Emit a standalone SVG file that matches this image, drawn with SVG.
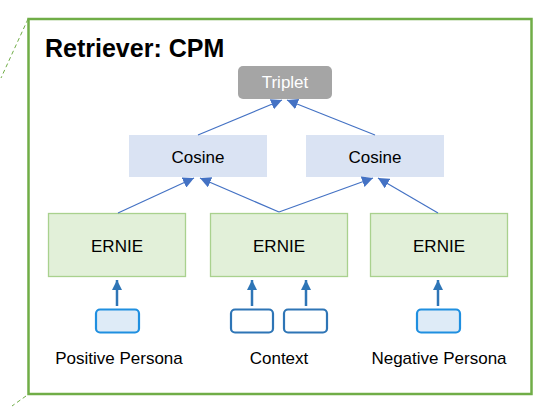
<svg xmlns="http://www.w3.org/2000/svg" width="560" height="413" viewBox="0 0 560 413">
<defs>
<style>
text{font-family:"Liberation Sans",Arial,sans-serif;text-anchor:middle;}
.cos{fill:#DAE3F3;}
.ern{fill:#E2F0D9;stroke:#A9D18E;stroke-width:1.3;}
.lbl{font-size:17px;fill:#000;}
.thin{stroke:#4472C4;stroke-width:1.2;fill:none;marker-end:url(#ah);}
.thick{stroke:#2E75B6;stroke-width:2.5;fill:none;marker-end:url(#ah2);}
.pin{fill:#DEEBF7;stroke:#1F8FE0;stroke-width:2.2;}
.cin{fill:#fff;stroke:#2E75B6;stroke-width:2.2;}
</style>
<marker id="ah" viewBox="0 0 10 10" refX="10" refY="5" markerWidth="11" markerHeight="11" markerUnits="userSpaceOnUse" orient="auto">
<path d="M0,0 L10,5 L0,10 z" fill="#4472C4"/>
</marker>
<marker id="ah2" viewBox="0 0 10 10" refX="10" refY="5" markerWidth="13" markerHeight="10" markerUnits="userSpaceOnUse" orient="auto">
<path d="M0,0 L10,5 L0,10 z" fill="#2E75B6"/>
</marker>
</defs>
<rect width="560" height="413" fill="#fff"/>
<g id="frame">
<path d="M28,19 L1,78" stroke="#70AD47" stroke-width="1" stroke-dasharray="4,3" fill="none"/>
<path d="M26,396 L12,406" stroke="#70AD47" stroke-width="1" stroke-dasharray="4,3" fill="none"/>
<rect x="28.5" y="19" width="503" height="375" fill="none" stroke="#70AD47" stroke-width="2.5"/>
<text x="45" y="57" style="text-anchor:start;font-size:25px;font-weight:bold">Retriever: CPM</text>
</g>
<g id="triplet">
<rect x="238" y="66" width="94" height="33" rx="5" fill="#A5A5A5"/>
<text x="285" y="88" style="font-size:17px;fill:#fff">Triplet</text>
</g>
<g id="cosine-left">
<rect class="cos" x="129" y="135" width="138" height="42"/>
<text x="198" y="163" style="font-size:17px">Cosine</text>
</g>
<g id="cosine-right">
<rect class="cos" x="306" y="135" width="138" height="42"/>
<text x="375" y="163" style="font-size:17px">Cosine</text>
</g>
<g id="ernie-left">
<rect class="ern" x="48.5" y="213.5" width="137" height="63"/>
<text x="117" y="252" style="font-size:17px">ERNIE</text>
</g>
<g id="ernie-mid">
<rect class="ern" x="210.5" y="213.5" width="137" height="63"/>
<text x="279" y="252" style="font-size:17px">ERNIE</text>
</g>
<g id="ernie-right">
<rect class="ern" x="370.5" y="213.5" width="137" height="63"/>
<text x="439" y="252" style="font-size:17px">ERNIE</text>
</g>
<g id="input-positive">
<rect class="pin" x="96" y="309.5" width="43" height="23" rx="4"/>
<text class="lbl" x="119" y="364">Positive Persona</text>
</g>
<g id="input-context">
<rect class="cin" x="231" y="309.5" width="42" height="23" rx="4"/>
<rect class="cin" x="284" y="309.5" width="43" height="23" rx="4"/>
<text class="lbl" x="279" y="364">Context</text>
</g>
<g id="input-negative">
<rect class="pin" x="417" y="309.5" width="43" height="23" rx="4"/>
<text class="lbl" x="439" y="364">Negative Persona</text>
</g>
<g id="connectors">
<line class="thin" x1="198" y1="135" x2="282" y2="100"/>
<line class="thin" x1="375" y1="135" x2="287" y2="100"/>
<line class="thin" x1="118" y1="213" x2="194" y2="178"/>
<line class="thin" x1="279" y1="212" x2="200" y2="178"/>
<line class="thin" x1="279" y1="212" x2="373" y2="178"/>
<line class="thin" x1="438" y1="213" x2="378" y2="178"/>
<line class="thick" x1="117" y1="306" x2="117" y2="280"/>
<line class="thick" x1="252" y1="306" x2="252" y2="280"/>
<line class="thick" x1="306" y1="306" x2="306" y2="280"/>
<line class="thick" x1="438" y1="306" x2="438" y2="280"/>
</g>
</svg>
